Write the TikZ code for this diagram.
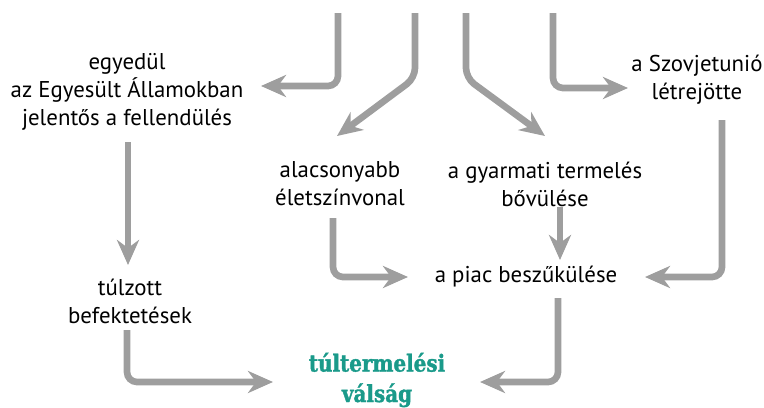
\documentclass[tikz,border=0pt]{standalone}
\usepackage{fontspec}
\setmainfont{PT Sans}
\newfontfamily\slabfont[FakeStretch=0.85,FakeBold=1.5]{DejaVu Serif}
\usetikzlibrary{arrows.meta,calc}
\definecolor{arrowgray}{HTML}{9E9E9E}
\definecolor{crisisteal}{HTML}{1A9A8A}

\begin{document}
\begin{tikzpicture}[x=0.3mm,y=-0.3mm,
	txt/.style={align=center,inner sep=0pt,font=\fontsize{19.5}{24}\selectfont},
	crisis/.style={align=center,inner sep=0pt,text=crisisteal,font=\slabfont\bfseries\fontsize{20}{26}\selectfont},
	arr/.style={draw=arrowgray,line width=2mm,rounded corners=3mm,
		-{Stealth[length=7.5mm,width=6.6mm,inset=2.4mm]}}]
		\useasboundingbox (0,0) rectangle (764,408);
		
		\draw (127,92) node[txt] (egy) {egyedül\\az Egyesült Államokban\\jelentős a fellendülés} ;
		\draw (697,80) node[txt] (szov) {a Szovjetunió\\létrejötte} ;
		\draw (340,184) node[txt] (alac) {alacsonyabb\\életszínvonal} ;
		\draw (545,184) node[txt] (gyar) {a gyarmati termelés\\bővülése} ;
		\draw (526,277) node[txt] (piac) {a piac beszűkülése} ;
		\draw (130,301) node[txt] (tul) {túlzott\\befektetések} ;
		\draw (377,380) node[crisis] (val) {túltermelési\\válság} ;
		
		% arrows coming in from the top
		\coordinate (top1) at (338,13);
		\coordinate (top2) at (415,13);
		\coordinate (top3) at (466,13);
		\coordinate (top4) at (553,13);
		
		\draw[arr] (top1) |- ($(egy)+(134,-6)$) ;
		\draw[arr] (top2) -- ++(0,65) -- ($(alac)+(-3,-48)$) ;
		\draw[arr] (top3) -- ++(0,65) -- ($(gyar)+(0,-48)$) ;
		\draw[arr] (top4) |- ($(szov)+(-69,8)$) ;
		
		\draw[arr] ($(egy)+(1,50)$) -- ($(tul)+(-2,-36)$) ;
		\draw[arr] ($(tul)+(-3,29)$) |- ($(val)+(-104,2)$) ;
		\draw[arr] ($(alac)+(-7,34)$) |- ($(piac)+(-118,0)$) ;
		\draw[arr] ($(gyar)+(15,23)$) -- ($(piac)+(34,-17)$) ;
		\draw[arr] ($(szov)+(25,40)$) |- ($(piac)+(119,0)$) ;
		\draw[arr] ($(piac)+(32,21)$) |- ($(val)+(103,2)$) ;
\end{tikzpicture}
\end{document}
